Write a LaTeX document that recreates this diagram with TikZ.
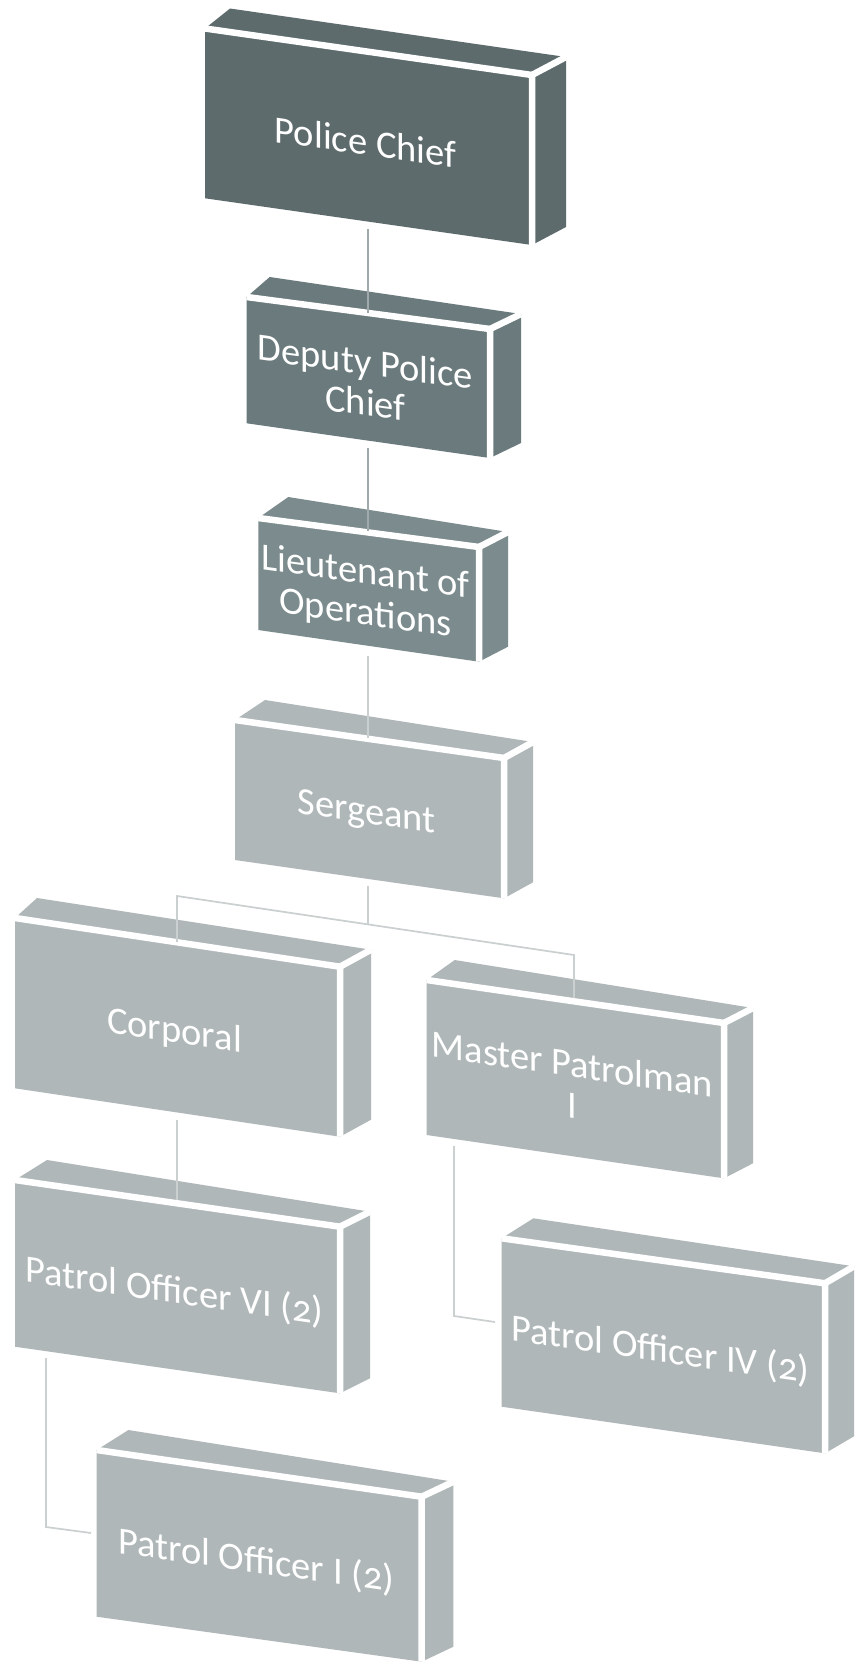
\documentclass[tikz,border=0pt]{standalone}
\usepackage{fontspec}
\setmainfont{Carlito}[Numbers=OldStyle]
\usetikzlibrary{calc}
\definecolor{boxA}{RGB}{94,107,109}
\definecolor{boxB}{RGB}{107,123,125}
\definecolor{boxC}{RGB}{124,139,141}
\definecolor{boxD}{RGB}{176,183,184}
\definecolor{linkdark}{RGB}{160,170,172}
\definecolor{linklight}{RGB}{202,207,208}
\tikzset{
  lbl/.style={text=white, font=\fontsize{38.5}{41}\selectfont, align=center, inner sep=0pt},
  facesep/.style={draw=white, line width=6.5pt, line cap=butt, line join=miter},
  linkA/.style={draw=linkdark, line width=1.7pt},
  linkB/.style={draw=linklight, line width=1.7pt},
}
\newcommand{\frontface}[6]{\def\bxl{#1}\def\bytl{#2}\def\bxr{#3}\def\bytr{#4}\def\bybl{#5}\def\bybr{#6}}
\newcommand{\orgbox}[5]{%
  \coordinate (#1-tl) at (\bxl,\bytl);
  \coordinate (#1-tr) at (\bxr,\bytr);
  \coordinate (#1-br) at (\bxr,\bybr);
  \coordinate (#1-bl) at (\bxl,\bybl);
  \fill[#2] (#1-tl) -- ++(#3) -- ($(#1-tr)+(#4)$) -- (#1-tr) -- cycle;
  \fill[#2] (#1-tr) -- ++(#4) -- ($(#1-br)+(#4)$) -- (#1-br) -- cycle;
  \fill[#2] (#1-tl) -- (#1-tr) -- (#1-br) -- (#1-bl) -- cycle;
  \draw[facesep] (#1-tl) -- (#1-tr) -- (#1-br);
  \draw[facesep] (#1-tr) -- ++(#4);
  \pgfmathsetmacro\bslant{-((\bytr-\bytl)+(\bybr-\bybl))/(2*(\bxr-\bxl))}
  \pgfmathsetmacro\bcx{(\bxl+\bxr)/2-3}
  \pgfmathsetmacro\bcy{(\bytl+\bytr+\bybl+\bybr)/4+5}
  \node[lbl, yslant=\bslant] (#1) at (\bcx,\bcy) {#5};
}
\begin{document}
\begin{tikzpicture}[x=1pt,y=-1pt]
\useasboundingbox (0,0) rectangle (855,1671);
\fill[white] (0,0) rectangle (855,1671);
% boxes
\frontface{205}{28.5}{532}{75}{198.3}{245}
\orgbox{pc}{boxA}{25,-20}{34,-18}{Police Chief}
\frontface{246.7}{297}{490}{329}{423.3}{458}
\orgbox{dc}{boxB}{23,-20}{31,-15}{Deputy Police\\Chief}
\frontface{258.3}{518}{479}{547}{630}{661.7}
\orgbox{lo}{boxC}{30,-21}{29,-15}{Lieutenant of\\Operations}
\frontface{235}{720}{504}{758}{860}{898.3}
\orgbox{sg}{boxD}{30,-20}{29,-16}{Sergeant}
\frontface{15}{918}{340}{966.7}{1088.3}{1136.7}
\orgbox{cp}{boxD}{22,-20}{31,-17}{Corporal}
\frontface{426.7}{980}{724}{1023}{1135}{1178.3}
\orgbox{mp}{boxD}{28,-20}{29,-15}{Master Patrolman\\I}
\frontface{15}{1180}{340}{1226.7}{1346.7}{1393.3}
\orgbox{pvi}{boxD}{32,-20}{30,-15}{Patrol Officer VI (2)}
\frontface{501.7}{1238.3}{825}{1283.3}{1406.7}{1453.3}
\orgbox{piv}{boxD}{31.7,-20}{29,-17}{Patrol Officer IV (2)}
\frontface{96.7}{1450}{421.7}{1496.7}{1616.7}{1661.7}
\orgbox{pi}{boxD}{31.7,-20}{31.7,-15}{Patrol Officer I (2)}
% connector end points
\coordinate (pc-out) at (368,229);
\coordinate (dc-in) at (368,313);
\coordinate (dc-out) at (368,448);
\coordinate (lo-in) at (368,531);
\coordinate (lo-out) at (368,656);
\coordinate (sg-in) at (368,738);
\coordinate (sg-out) at (368,886);
\coordinate (br-mid) at (368,924.4);
\coordinate (br-left) at (177,896);
\coordinate (br-right) at (574,955);
\coordinate (cp-in) at (177,942);
\coordinate (mp-in) at (574,998);
\coordinate (cp-out) at (177,1120);
\coordinate (pvi-in) at (177,1200);
\coordinate (pvi-out) at (46,1358);
\coordinate (pvi-elbow) at (46,1527);
\coordinate (pi-in) at (91,1533);
\coordinate (mp-out) at (454,1146);
\coordinate (mp-elbow) at (454,1316);
\coordinate (piv-in) at (495,1322);
% connectors
\draw[linkA] (pc-out) -- (dc-in);
\draw[linkA] (dc-out) -- (lo-in);
\draw[linkB] (lo-out) -- (sg-in);
\draw[linkB] (sg-out) -- (br-mid);
\draw[linkB] (cp-in) -- (br-left) -- (br-right) -- (mp-in);
\draw[linkB] (cp-out) -- (pvi-in);
\draw[linkB] (pvi-out) -- (pvi-elbow) -- (pi-in);
\draw[linkB] (mp-out) -- (mp-elbow) -- (piv-in);
\end{tikzpicture}
\end{document}
